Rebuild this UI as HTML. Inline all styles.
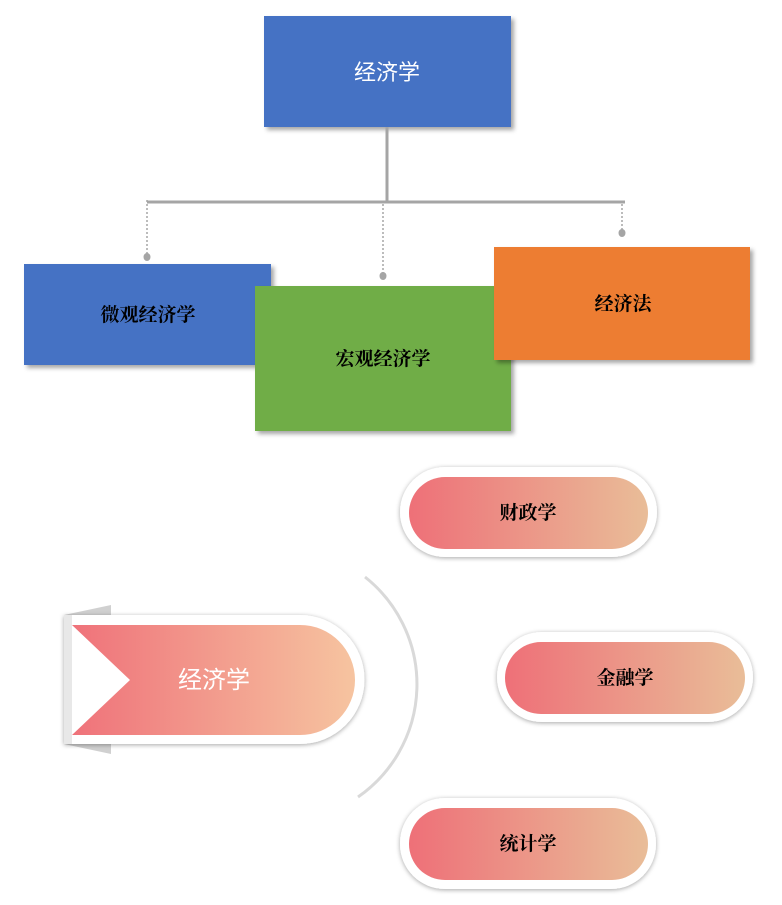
<!DOCTYPE html>
<html><head><meta charset="utf-8">
<style>
html,body{margin:0;padding:0;background:#fff;width:782px;height:905px;overflow:hidden}
svg{display:block}
.s{font-family:"Liberation Sans","Noto Sans CJK SC",sans-serif}
.b{font-family:"Liberation Serif","Noto Serif CJK SC",serif;font-weight:bold}
</style></head><body>
<svg width="782" height="905" viewBox="0 0 782 905" xmlns="http://www.w3.org/2000/svg">
<defs>
<filter id="sh" x="-10%" y="-10%" width="130%" height="130%"><feDropShadow dx="3" dy="3" stdDeviation="2" flood-color="#000" flood-opacity="0.35"/></filter>
<filter id="sh2" x="-10%" y="-20%" width="120%" height="140%"><feDropShadow dx="0" dy="1" stdDeviation="2.5" flood-color="#000" flood-opacity="0.35"/></filter>
<linearGradient id="g1" x1="0" x2="1"><stop offset="0" stop-color="#ef727a"/><stop offset="1" stop-color="#f6c4a0"/></linearGradient>
<linearGradient id="g2" x1="0" x2="1"><stop offset="0" stop-color="#ee7078"/><stop offset="1" stop-color="#e9bd98"/></linearGradient>
</defs>
<!-- top -->
<rect x="264" y="16" width="247" height="111" fill="#4472c4" filter="url(#sh)"/>
<text x="387" y="80" text-anchor="middle" font-size="22" fill="#fff" class="s">经济学</text>
<line x1="387" y1="127" x2="387" y2="202" stroke="#a5a5a5" stroke-width="3"/>
<line x1="147" y1="202" x2="625" y2="202" stroke="#a5a5a5" stroke-width="3"/>
<g stroke="#a5a5a5" stroke-width="1.5" stroke-dasharray="2,2">
<line x1="147" y1="200" x2="147" y2="256"/><line x1="383" y1="204" x2="383" y2="275"/><line x1="622" y1="204" x2="622" y2="232"/></g>
<g fill="#a5a5a5"><ellipse cx="147" cy="257" rx="3.5" ry="4"/><ellipse cx="383" cy="276" rx="3.5" ry="4"/><ellipse cx="622" cy="233" rx="3.5" ry="4"/></g>
<rect x="24" y="264" width="247" height="101" fill="#4472c4" filter="url(#sh)"/>
<text x="148" y="321" text-anchor="middle" font-size="19" class="b">微观经济学</text>
<rect x="255" y="286" width="256" height="145" fill="#70ad47" filter="url(#sh)"/>
<text x="383" y="365" text-anchor="middle" font-size="19" class="b">宏观经济学</text>
<rect x="494" y="247" width="256" height="113" fill="#ed7d31" filter="url(#sh)"/>
<text x="623" y="310" text-anchor="middle" font-size="19" class="b">经济法</text>
<!-- arc -->
<path d="M365 577 A137 137 0 0 1 358 797" fill="none" stroke="#d9d9d9" stroke-width="3"/>
<!-- ribbon -->
<polygon points="64,615 111,605 111,615" fill="#d0d0d0"/>
<polygon points="64,744 111,754 111,744" fill="#d0d0d0"/>
<path d="M64 615 H300 A64.5 64.5 0 0 1 300 744 H64 Z" fill="#fff" filter="url(#sh2)"/>
<path d="M72 625 H300 A55 55 0 0 1 300 735 H72 L130 680 Z" fill="url(#g1)"/>
<rect x="64" y="615" width="8" height="129" fill="#e8e8e8"/>
<text x="214" y="688" text-anchor="middle" font-size="24" fill="#fff" class="s">经济学</text>
<!-- pills -->
<g filter="url(#sh2)"><rect x="400" y="467" width="257" height="90" rx="45" fill="#fff"/>
<rect x="497" y="632" width="256" height="90" rx="45" fill="#fff"/>
<rect x="400" y="798" width="256" height="91" rx="45" fill="#fff"/></g>
<rect x="409" y="477" width="239" height="72" rx="36" fill="url(#g2)"/>
<rect x="505" y="642" width="240" height="72" rx="36" fill="url(#g2)"/>
<rect x="409" y="808" width="239" height="72" rx="36" fill="url(#g2)"/>
<text x="528" y="519" text-anchor="middle" font-size="19" class="b">财政学</text>
<text x="625" y="684" text-anchor="middle" font-size="19" class="b">金融学</text>
<text x="528" y="850" text-anchor="middle" font-size="19" class="b">统计学</text>
</svg>
</body></html>
